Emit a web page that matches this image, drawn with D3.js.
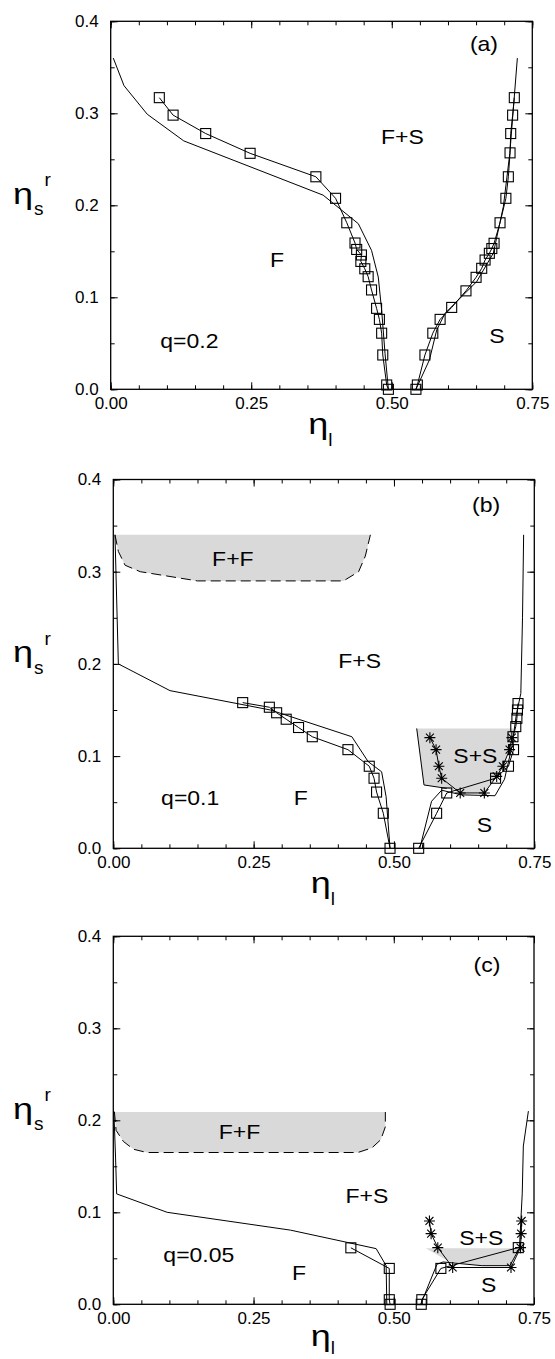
<!DOCTYPE html>
<html>
<head>
<meta charset="utf-8">
<script src="https://cdn.jsdelivr.net/npm/d3@7"></script>
<style>
body { margin: 0; background: #fff; }
svg { display: block; }
text { font-family: "Liberation Sans", Arial, Helvetica, sans-serif; fill: #000; }
</style>
</head>
<body>
<div id="chart"></div>
<script>
// axis ticks
var xTicks = [0, 0.25, 0.5, 0.75];
var yTicks = [0, 0.1, 0.2, 0.3, 0.4];

// panel (a), q=0.2 : [eta_l, eta_s^r]
var aTheoryLeft = [[0.0046,0.360],[0.0237,0.330],[0.065,0.299],[0.130,0.270],[0.378,0.211],[0.4405,0.180],[0.464,0.151],[0.476,0.122],[0.482,0.086],[0.488,0.039],[0.494,0.0]];
var aSimLeft = [[0.0865,0.317],[0.111,0.298],[0.169,0.278],[0.248,0.2565],[0.365,0.231],[0.400,0.2076],[0.420,0.181],[0.4346,0.159],[0.4376,0.152],[0.446,0.146],[0.445,0.139],[0.452,0.131],[0.458,0.1224],[0.464,0.108],[0.473,0.088],[0.478,0.076],[0.482,0.061],[0.484,0.0373],[0.491,0.0047],[0.494,0.0]];
var aTheoryRight = [[0.543,0.0],[0.567,0.032],[0.580,0.0645],[0.5947,0.0826],[0.651,0.117],[0.6807,0.148],[0.6985,0.1985],[0.710,0.2565],[0.7234,0.360]];
var aSimRight = [[0.543,0.0],[0.5455,0.0047],[0.559,0.0373],[0.573,0.061],[0.586,0.076],[0.6066,0.089],[0.632,0.107],[0.650,0.1217],[0.660,0.1315],[0.666,0.1405],[0.6736,0.1478],[0.678,0.153],[0.682,0.1587],[0.6926,0.181],[0.703,0.2076],[0.7074,0.231],[0.7104,0.257],[0.7116,0.278],[0.715,0.298],[0.718,0.317]];

// panel (b), q=0.1
var bFluidFluid = [[0.003,0.340],[0.009,0.322],[0.021,0.307],[0.048,0.300],[0.150,0.290],[0.410,0.290],[0.437,0.300],[0.449,0.317],[0.458,0.340]];
var bTheoryLeft = [[0.003,0.340],[0.009,0.200],[0.101,0.171],[0.280,0.150],[0.425,0.121],[0.454,0.094],[0.478,0.083],[0.486,0.056],[0.493,0.0]];
var bSimLeft = [[0.2305,0.158],[0.278,0.153],[0.291,0.147],[0.308,0.140],[0.330,0.131],[0.3545,0.121],[0.418,0.107],[0.456,0.089],[0.4645,0.076],[0.469,0.061],[0.481,0.038],[0.493,0.0]];
var bSolidSolid = [[0.5405,0.130],[0.5535,0.0687],[0.594,0.065],[0.618,0.060],[0.661,0.060],[0.683,0.078],[0.694,0.089],[0.707,0.110],[0.713,0.130]];
var bSolidEdge = [[0.5405,0.130],[0.5535,0.0687],[0.594,0.065]];
var bTheoryRight = [[0.546,0.0],[0.567,0.051],[0.585,0.063],[0.620,0.058],[0.680,0.057],[0.697,0.075],[0.710,0.110],[0.718,0.145],[0.726,0.168],[0.729,0.250],[0.731,0.340]];
var bSimRight = [[0.544,0.0],[0.576,0.038],[0.594,0.060],[0.681,0.076],[0.704,0.089],[0.713,0.107],[0.712,0.121],[0.717,0.132],[0.719,0.141],[0.720,0.150],[0.721,0.157]];
var bSimSS = [[0.564,0.120],[0.575,0.107],[0.580,0.089],[0.585,0.076],[0.618,0.060],[0.661,0.060],[0.683,0.078],[0.694,0.089],[0.706,0.107],[0.710,0.120]];

// panel (c), q=0.05
var cFluidFluid = [[0.002,0.209],[0.005,0.189],[0.018,0.177],[0.036,0.1685],[0.060,0.165],[0.436,0.165],[0.461,0.170],[0.477,0.179],[0.485,0.193],[0.485,0.209]];
var cTheoryLeft = [[0.001,0.210],[0.004,0.160],[0.006,0.120],[0.096,0.100],[0.316,0.0806],[0.4686,0.0605],[0.4864,0.042],[0.4876,0.0]];
var cSimLeft = [[0.4235,0.0614],[0.492,0.039],[0.492,0.005],[0.4935,0.0]];
var cSolidSolid = [[0.557,0.061],[0.600,0.046],[0.657,0.042],[0.707,0.042],[0.724,0.061]];
var cTheoryRight = [[0.548,0.0],[0.577,0.0435],[0.588,0.046],[0.605,0.045],[0.657,0.042],[0.707,0.042],[0.724,0.061],[0.729,0.120],[0.731,0.172],[0.740,0.210]];
var cSimRight = [[0.549,0.0],[0.550,0.005],[0.584,0.039],[0.722,0.0616]];
var cSimSS = [[0.5636,0.0906],[0.5666,0.0768],[0.5785,0.0616],[0.605,0.040],[0.709,0.040],[0.726,0.0616],[0.727,0.0768],[0.728,0.0906]];

var width = 555, height = 1359;

var panels = [
    { left: 110.7, right: 532.3, top: 21.3, bottom: 389.3, etaDrop: 44.7, subDrop: 56.4,
      fills: [], dashed: [],
      lines: [aTheoryLeft, aTheoryRight, aSimLeft, aSimRight],
      squares: [aSimLeft, aSimRight], stars: [],
      labels: [["(a)",0.664,0.375],["F+S",0.519,0.274],["F",0.296,0.141],["q=0.2",0.140,0.052],["S",0.687,0.058]] },
    { left: 113.3, right: 534.3, top: 479.5, bottom: 848.3, etaDrop: 44.7, subDrop: 56.4,
      fills: [bFluidFluid, bSolidSolid], dashed: [bFluidFluid],
      lines: [bTheoryLeft, bSimLeft, bSolidEdge, bTheoryRight, bSimRight, bSimSS],
      squares: [bSimLeft, bSimRight], stars: [bSimSS],
      labels: [["(b)",0.664,0.372],["F+F",0.213,0.314],["F+S",0.439,0.203],["S+S",0.645,0.100],["q=0.1",0.137,0.054],["F",0.334,0.054],["S",0.661,0.025]] },
    { left: 113.3, right: 534, top: 936.3, bottom: 1304.3, etaDrop: 42, subDrop: 50,
      fills: [cFluidFluid, cSolidSolid], dashed: [cFluidFluid],
      lines: [cTheoryLeft, cSimLeft, cTheoryRight, cSimRight, cSimSS],
      squares: [cSimLeft, cSimRight], stars: [cSimSS],
      labels: [["(c)",0.666,0.369],["F+F",0.225,0.187],["F+S",0.452,0.118],["S+S",0.656,0.072],["q=0.05",0.1525,0.054],["F",0.331,0.034],["S",0.669,0.021]] }
];

var svg = d3.select("#chart").append("svg")
    .attr("width", width)
    .attr("height", height);

svg.append("rect").attr("width", width).attr("height", height).attr("fill", "#fff");

function starPath(r) {
    var d = r * 0.72;
    return "M0," + (-r) + "V" + r + "M" + (-r) + ",0H" + r +
        "M" + (-d) + "," + (-d) + "L" + d + "," + d +
        "M" + (-d) + "," + d + "L" + d + "," + (-d);
}

function drawPanel(p) {
    var g = svg.append("g");
    var x = d3.scaleLinear().domain([0, 0.75]).range([p.left, p.right]);
    var y = d3.scaleLinear().domain([0, 0.4]).range([p.bottom, p.top]);
    var minorX = d3.range(0, 16).map(function(i) { return i * 0.05; });
    var minorY = d3.range(0, 9).map(function(i) { return i * 0.05; });

    var line = d3.line().x(function(d) { return x(d[0]); }).y(function(d) { return y(d[1]); });

    // shaded coexistence regions
    p.fills.forEach(function(f) {
        g.append("path").attr("d", line(f) + "Z").attr("fill", "#d9d9d9").attr("stroke", "none");
    });
    p.dashed.forEach(function(f) {
        g.append("path").attr("d", line(f)).attr("fill", "none")
            .attr("stroke", "#000").attr("stroke-width", 1).attr("stroke-dasharray", "10,5");
    });

    p.lines.forEach(function(l) {
        g.append("path").attr("d", line(l)).attr("fill", "none")
            .attr("stroke", "#000").attr("stroke-width", 1);
    });

    p.squares.forEach(function(s) {
        g.selectAll(null).data(s).enter().append("rect")
            .attr("x", function(d) { return x(d[0]) - 5; })
            .attr("y", function(d) { return y(d[1]) - 5; })
            .attr("width", 10).attr("height", 10)
            .attr("fill", "none").attr("stroke", "#000").attr("stroke-width", 1.1);
    });

    p.stars.forEach(function(s) {
        g.selectAll(null).data(s).enter().append("path")
            .attr("transform", function(d) { return "translate(" + x(d[0]) + "," + y(d[1]) + ")"; })
            .attr("d", starPath(5.5))
            .attr("fill", "none").attr("stroke", "#000").attr("stroke-width", 1.1);
    });

    // axes, ticks pointing inwards
    function style(a) {
        a.select(".domain").remove();
        a.selectAll("line").attr("stroke", "#000").attr("stroke-width", 1);
        a.attr("font-size", 17).attr("font-family", '"Liberation Sans", Arial, sans-serif');
    }
    g.append("g").attr("transform", "translate(0," + p.bottom + ")")
        .call(d3.axisBottom(x).tickValues(minorX).tickSize(-4).tickFormat("")).call(style);
    g.append("g").attr("transform", "translate(0," + p.bottom + ")")
        .call(d3.axisBottom(x).tickValues(xTicks).tickSize(-7).tickPadding(8).tickFormat(d3.format(".2f"))).call(style);
    g.append("g").attr("transform", "translate(0," + p.top + ")")
        .call(d3.axisTop(x).tickValues(minorX).tickSize(-4).tickFormat("")).call(style);
    g.append("g").attr("transform", "translate(0," + p.top + ")")
        .call(d3.axisTop(x).tickValues(xTicks).tickSize(-7).tickFormat("")).call(style);
    g.append("g").attr("transform", "translate(" + p.left + ",0)")
        .call(d3.axisLeft(y).tickValues(minorY).tickSize(-4).tickFormat("")).call(style);
    g.append("g").attr("transform", "translate(" + p.left + ",0)")
        .call(d3.axisLeft(y).tickValues(yTicks).tickSize(-7).tickPadding(12).tickFormat(d3.format(".1f"))).call(style);
    g.append("g").attr("transform", "translate(" + p.right + ",0)")
        .call(d3.axisRight(y).tickValues(minorY).tickSize(-4).tickFormat("")).call(style);
    g.append("g").attr("transform", "translate(" + p.right + ",0)")
        .call(d3.axisRight(y).tickValues(yTicks).tickSize(-7).tickFormat("")).call(style);

    g.append("rect")
        .attr("x", p.left).attr("y", p.top)
        .attr("width", p.right - p.left).attr("height", p.bottom - p.top)
        .attr("fill", "none").attr("stroke", "#000").attr("stroke-width", 1.3);

    // region labels
    p.labels.forEach(function(t) {
        g.append("text")
            .attr("transform", "translate(" + x(t[1]) + "," + y(t[2]) + ") scale(1.15,1)")
            .attr("text-anchor", "middle")
            .attr("dominant-baseline", "central")
            .attr("font-size", 20)
            .text(t[0]);
    });

    // y axis title: eta_s^r
    var yb = y(0.2);
    g.append("text").attr("transform", "translate(13," + (yb - 1.7) + ") scale(1.2,1)")
        .attr("font-size", 30).text("η");
    g.append("text").attr("x", 34).attr("y", yb + 9.7).attr("font-size", 19).text("s");
    g.append("text").attr("x", 44.5).attr("y", yb - 19.3).attr("font-size", 19).text("r");

    // x axis title: eta_l
    g.append("text").attr("transform", "translate(" + (p.left + 197.5) + "," + (p.bottom + p.etaDrop) + ") scale(1.2,1)")
        .attr("font-size", 30).text("η");
    g.append("text").attr("x", p.left + 217.5).attr("y", p.bottom + p.subDrop).attr("font-size", 19).text("l");
}

panels.forEach(drawPanel);
</script>
</body>
</html>
